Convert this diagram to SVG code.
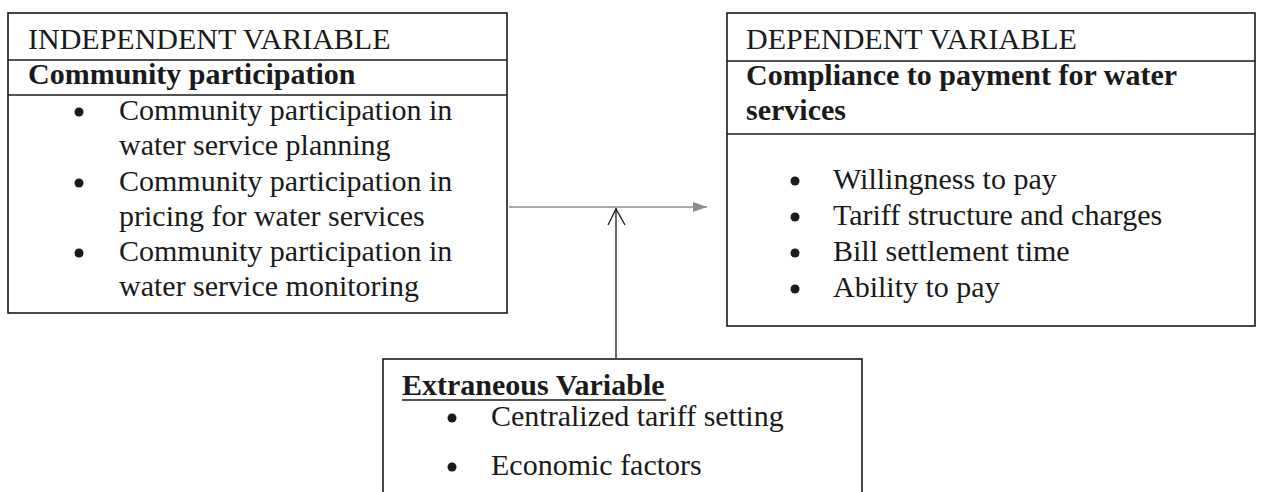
<svg xmlns="http://www.w3.org/2000/svg" width="1262" height="492" viewBox="0 0 1262 492">
<style>
.box{fill:#fff;stroke:#1a1a1a;stroke-width:1.6}
.sep{stroke:#1a1a1a;stroke-width:1.4}
.t{font-family:"Liberation Serif","Times New Roman",serif;font-size:30px;fill:#1a1a1a}
.b{font-weight:bold}
.dot{fill:#1a1a1a}
</style>
<defs>
<marker id="tri" markerWidth="14" markerHeight="10" refX="14" refY="5" orient="auto" markerUnits="userSpaceOnUse">
<path d="M0,0 L14,5 L0,10 Z" fill="#8c8c8c"/>
</marker>
</defs>
<rect width="1262" height="492" fill="#fff"/>
<g id="independent">
<rect class="box" x="8" y="13" width="499" height="300"/>
<line class="sep" x1="8" y1="60" x2="507" y2="60"/>
<line class="sep" x1="8" y1="95" x2="507" y2="95"/>
<text class="t" x="28" y="49">INDEPENDENT VARIABLE</text>
<text class="t b" x="28" y="84">Community participation</text>
<circle class="dot" cx="79" cy="112" r="4.5"/>
<circle class="dot" cx="79" cy="183" r="4.5"/>
<circle class="dot" cx="79" cy="253" r="4.5"/>
<text class="t" x="119" y="120">Community participation in</text>
<text class="t" x="119" y="155">water service planning</text>
<text class="t" x="119" y="191">Community participation in</text>
<text class="t" x="119" y="226">pricing for water services</text>
<text class="t" x="119" y="261">Community participation in</text>
<text class="t" x="119" y="296">water service monitoring</text>
</g>
<g id="dependent">
<rect class="box" x="727" y="13" width="528" height="313"/>
<line class="sep" x1="727" y1="61" x2="1255" y2="61"/>
<line class="sep" x1="727" y1="134" x2="1255" y2="134"/>
<text class="t" x="746" y="49">DEPENDENT VARIABLE</text>
<text class="t b" x="746" y="85">Compliance to payment for water</text>
<text class="t b" x="746" y="120">services</text>
<circle class="dot" cx="795" cy="181" r="4.5"/>
<circle class="dot" cx="795" cy="217" r="4.5"/>
<circle class="dot" cx="795" cy="253" r="4.5"/>
<circle class="dot" cx="795" cy="289" r="4.5"/>
<text class="t" x="833" y="189">Willingness to pay</text>
<text class="t" x="833" y="225">Tariff structure and charges</text>
<text class="t" x="833" y="261">Bill settlement time</text>
<text class="t" x="833" y="297">Ability to pay</text>
</g>
<g id="extraneous">
<rect class="box" x="383" y="359" width="479" height="160"/>
<text class="t b" x="402" y="395">Extraneous Variable</text>
<line x1="402" y1="400" x2="666" y2="400" stroke="#1a1a1a" stroke-width="1.6"/>
<circle class="dot" cx="452" cy="418" r="4.5"/>
<circle class="dot" cx="452" cy="467" r="4.5"/>
<text class="t" x="491" y="426">Centralized tariff setting</text>
<text class="t" x="491" y="475">Economic factors</text>
</g>
<g id="connectors">
<line x1="509" y1="207" x2="707" y2="207" stroke="#8c8c8c" stroke-width="1.4" marker-end="url(#tri)"/>
<line x1="616" y1="358" x2="616" y2="208" stroke="#1a1a1a" stroke-width="1.3"/>
<polyline points="608,225 616,209 625,225" fill="none" stroke="#1a1a1a" stroke-width="1.3"/>
</g>
</svg>
